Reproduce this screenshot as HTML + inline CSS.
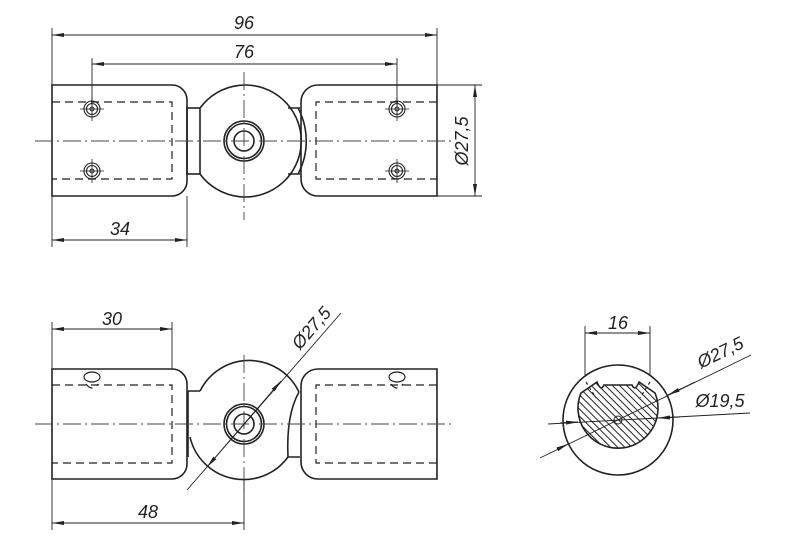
<!DOCTYPE html>
<html><head><meta charset="utf-8"><style>
html,body{margin:0;padding:0;background:#fff}
svg{display:block}
text{font-family:"Liberation Sans",sans-serif;font-style:italic;font-size:18px;fill:#222}
</style></head><body>
<svg width="800" height="550" viewBox="0 0 800 550" xmlns="http://www.w3.org/2000/svg">
<defs>
<marker id="a" viewBox="0 0 12 4" refX="12" refY="2" markerWidth="12" markerHeight="4" orient="auto-start-reverse" markerUnits="userSpaceOnUse"><path d="M0,0L12,2L0,4z" fill="#222"/></marker>
<pattern id="h" width="5" height="5" patternUnits="userSpaceOnUse" patternTransform="rotate(-45)"><rect width="5" height="5" fill="#fff"/><line x1="0" y1="0" x2="0" y2="5" stroke="#222" stroke-width="2"/></pattern>
</defs>
<g fill="none" stroke="#222" stroke-width="1.6">
<!-- TOP VIEW -->
<path d="M52,85 H172 A15,15 0 0 1 187,100 V181 A15,15 0 0 1 172,196 H52 Z"/>
<path d="M437,85 H318 A17,17 0 0 0 301,102 V179 A17,17 0 0 0 318,196 H437 Z"/>
<rect x="187" y="108" width="13" height="66"/>
<path d="M200,108 A56,56 0 1 1 200,174"/>
<path d="M288,108 H300 M288,174 H300 M298,108 A70,70 0 0 1 298,174"/>
<circle cx="244" cy="141" r="20"/><circle cx="244" cy="141" r="17.5"/><circle cx="244" cy="141" r="10"/>
<g stroke-width="1.1">
<circle cx="92" cy="109" r="8"/><circle cx="92" cy="109" r="5.5"/><circle cx="92" cy="109" r="2"/>
<circle cx="92" cy="171" r="8"/><circle cx="92" cy="171" r="5.5"/><circle cx="92" cy="171" r="2"/>
<circle cx="397" cy="109" r="8"/><circle cx="397" cy="109" r="5.5"/><circle cx="397" cy="109" r="2"/>
<circle cx="397" cy="171" r="8"/><circle cx="397" cy="171" r="5.5"/><circle cx="397" cy="171" r="2"/>
<path d="M80,109 H104 M92,97 V121 M80,171 H104 M92,159 V183 M385,109 H409 M397,97 V121 M385,171 H409 M397,159 V183" stroke-width="0.8"/>
</g>
<!-- BOTTOM VIEW -->
<path d="M52,369 H172 A15,15 0 0 1 187,384 V464 A15,15 0 0 1 172,479 H52 Z"/>
<path d="M437,369 H318 A17,17 0 0 0 301,386 V462 A17,17 0 0 0 318,479 H437 Z"/>
<path d="M188,391 H200 M188,391 V457"/>
<path d="M200,391 A55,55 0 0 1 299,392"/>
<path d="M288,457 A55,55 0 0 1 190,437"/>
<path d="M299,392 Q286,415 288,457 H300"/>
<circle cx="244" cy="424" r="20"/><circle cx="244" cy="424" r="17.5"/><circle cx="244" cy="424" r="10"/>
<ellipse cx="92" cy="377" rx="8" ry="5" stroke-width="1.2"/>
<ellipse cx="397" cy="377" rx="8" ry="5" stroke-width="1.2"/>
<!-- SECTION -->
<circle cx="618" cy="420" r="55"/>
<path d="M581,393 L597,382 Q601,392 604,385 H632 Q635,392 639,382 L655,393 A40,40 0 1 1 581,393 Z" fill="url(#h)"/>
<circle cx="618" cy="420" r="4" stroke-width="1"/>
</g>
<!-- hidden lines -->
<g fill="none" stroke="#222" stroke-width="1.2" stroke-dasharray="8,5">
<path d="M52,102 H172 V179 H52"/>
<path d="M437,102 H316 V179 H437"/>
<path d="M52,385 H172 V463 H52"/>
<path d="M437,385 H316 V463 H437"/>
<path d="M86,384 Q92,392 98,384 M391,384 Q397,392 403,384"/>
<path d="M586,382 L596,398 M650,382 L640,398" stroke-dasharray="3,3"/>
</g>
<!-- center lines -->
<g stroke="#444" stroke-width="0.9" stroke-dasharray="18,4,2,4">
<line x1="35" y1="141" x2="455" y2="141"/><line x1="244" y1="72" x2="244" y2="220"/>
<line x1="35" y1="424" x2="455" y2="424"/><line x1="244" y1="355" x2="244" y2="495"/>
</g>
<!-- dimensions -->
<g stroke="#222" stroke-width="0.9" fill="none">
<line x1="52" y1="28" x2="52" y2="85"/><line x1="437" y1="28" x2="437" y2="85"/>
<line x1="52" y1="35" x2="437" y2="35" marker-start="url(#a)" marker-end="url(#a)"/>
<line x1="92" y1="58" x2="92" y2="105"/><line x1="397" y1="58" x2="397" y2="105"/>
<line x1="92" y1="64" x2="397" y2="64" marker-start="url(#a)" marker-end="url(#a)"/>
<line x1="437" y1="85" x2="482" y2="85"/><line x1="437" y1="196" x2="482" y2="196"/>
<line x1="475" y1="85" x2="475" y2="196" marker-start="url(#a)" marker-end="url(#a)"/>
<line x1="52" y1="196" x2="52" y2="247"/><line x1="187" y1="196" x2="187" y2="247"/>
<line x1="52" y1="240" x2="187" y2="240" marker-start="url(#a)" marker-end="url(#a)"/>
<line x1="52" y1="322" x2="52" y2="369"/><line x1="172" y1="322" x2="172" y2="369"/>
<line x1="52" y1="329" x2="172" y2="329" marker-start="url(#a)" marker-end="url(#a)"/>
<line x1="52" y1="479" x2="52" y2="530"/><line x1="244" y1="479" x2="244" y2="530"/>
<line x1="52" y1="523" x2="244" y2="523" marker-start="url(#a)" marker-end="url(#a)"/>
<line x1="187" y1="490" x2="341" y2="313"/>
<line x1="207" y1="467" x2="281" y2="381" marker-start="url(#a)" marker-end="url(#a)"/>
<line x1="585" y1="326" x2="585" y2="375"/><line x1="650" y1="326" x2="650" y2="375"/>
<line x1="585" y1="333" x2="650" y2="333" marker-start="url(#a)" marker-end="url(#a)"/>
<line x1="540" y1="458" x2="751" y2="355"/>
<line x1="560" y1="448" x2="568" y2="444" marker-end="url(#a)"/>
<line x1="695" y1="382" x2="668" y2="395" marker-end="url(#a)"/>
<line x1="548" y1="424" x2="750" y2="413"/>
<line x1="560" y1="423" x2="578" y2="422" marker-end="url(#a)"/>
<line x1="680" y1="417" x2="658" y2="418" marker-end="url(#a)"/>
</g>
<text x="244" y="29" text-anchor="middle">96</text>
<text x="244" y="58" text-anchor="middle">76</text>
<text x="120" y="235" text-anchor="middle">34</text>
<text x="112" y="325" text-anchor="middle">30</text>
<text x="148" y="518" text-anchor="middle">48</text>
<text transform="translate(468,141) rotate(-90)" text-anchor="middle">Ø27,5</text>
<text transform="translate(316,332) rotate(-49)" text-anchor="middle">Ø27,5</text>
<text x="618" y="329" text-anchor="middle">16</text>
<text transform="translate(723,358) rotate(-26)" text-anchor="middle">Ø27,5</text>
<text x="720" y="407" text-anchor="middle">Ø19,5</text>
</svg>
</body></html>
